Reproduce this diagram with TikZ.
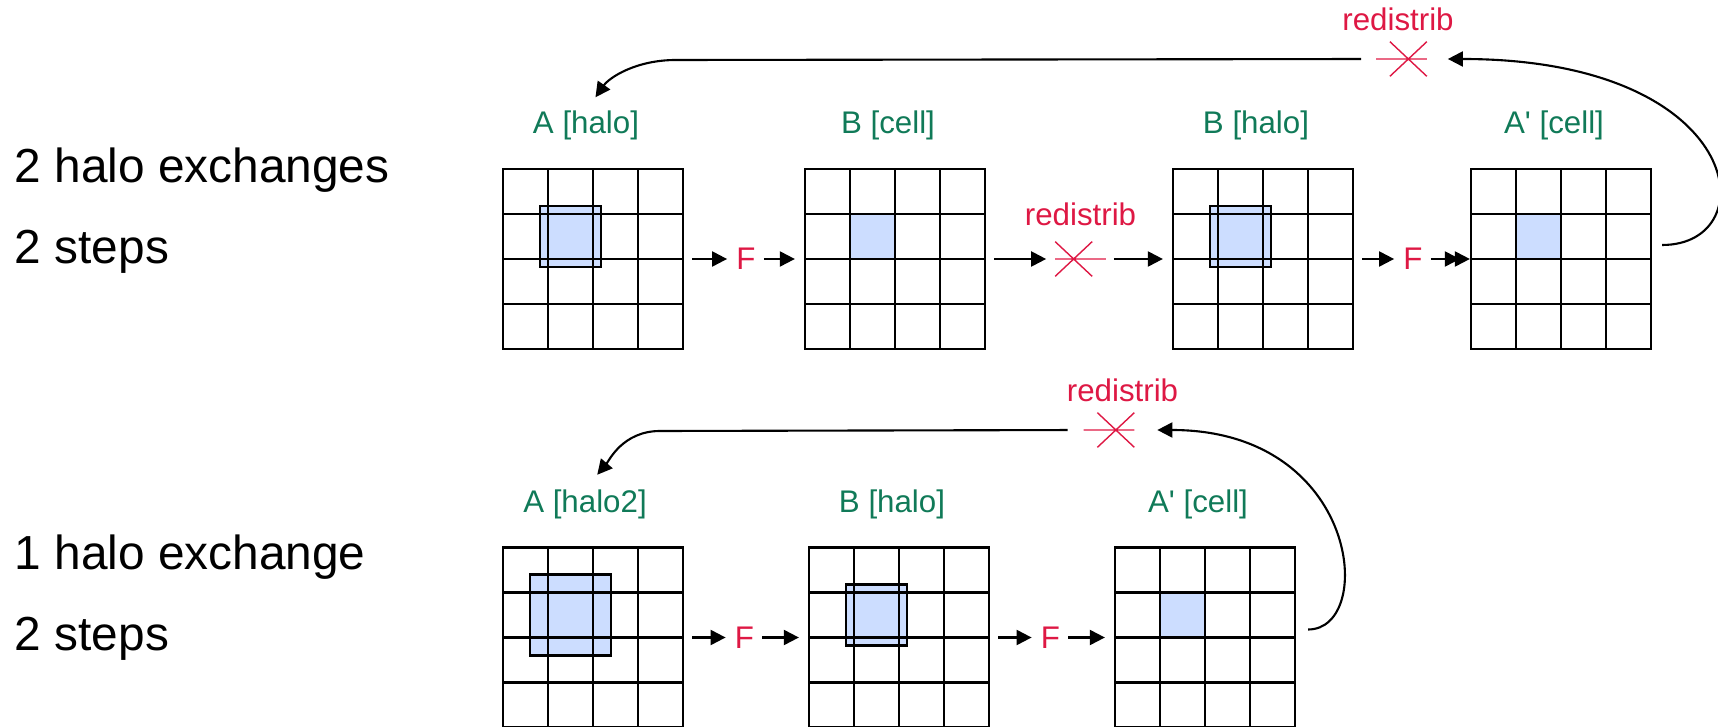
\documentclass[tikz,border=0pt]{standalone}
\usepackage{fontspec}
\setmainfont{Liberation Sans}[Ligatures=TeXOff]
\usepackage{tikz}
\usetikzlibrary{arrows.meta,positioning,backgrounds}

\definecolor{labelgreen}{RGB}{16,122,88}
\definecolor{opred}{RGB}{222,24,68}
\definecolor{cellblue}{RGB}{204,221,255}

\tikzset{
  mesh/.style={draw, line width=1.3pt, minimum size=3.6cm, inner sep=0pt,
    path picture={
      \foreach \k in {1,2,3}
        \draw[line width=1.3pt]
          ([xshift=\k*0.9cm]path picture bounding box.south west) --
          ([xshift=\k*0.9cm]path picture bounding box.north west)
          ([yshift=\k*0.9cm]path picture bounding box.south west) --
          ([yshift=\k*0.9cm]path picture bounding box.south east);
    }},
  cell/.style={fill=cellblue, minimum size=0.9cm, inner sep=0pt},
  halo/.style={cell, draw, line width=1.3pt},
  tag/.style={text=labelgreen, font=\fontsize{17.8}{20}\selectfont, inner sep=0pt, anchor=base},
  op/.style={text=opred, font=\fontsize{17.8}{20}\selectfont, inner sep=0pt},
  cross/.style={minimum width=1cm, minimum height=0.68cm, inner sep=0pt},
  side/.style={font=\fontsize{27.2}{30}\selectfont, inner sep=0pt, anchor=base west},
  flow/.style={-{Triangle[length=0.3cm,width=0.3cm]}, line width=1.2pt,
    shorten <=0.16cm, shorten >=0.18cm},
}

\begin{document}
\begin{tikzpicture}
  \useasboundingbox (0,0) rectangle (34.36,14.52);

  % left column
  \node[side] (t1) at (0.29,10.87) {2 halo exchanges};
  \node[side] (t2) at (0.29,9.25) {2 steps};
  \node[side] (t3) at (0.29,3.12) {1 halo exchange};
  \node[side] (t4) at (0.29,1.52) {2 steps};

  % upper chain
  \node[mesh] (A) at (11.86,9.34) {};
  \node[mesh] (B) at (17.9,9.34) {};
  \node[mesh] (Bh) at (25.26,9.34) {};
  \node[mesh] (Ap) at (31.22,9.34) {};

  \node[tag] (lA) at ([shift={(-0.14,0.68)}]A.north) {A [halo]};
  \node[tag] (lB) at ([shift={(-0.14,0.68)}]B.north) {B [cell]};
  \node[tag] (lBh) at ([shift={(-0.14,0.68)}]Bh.north) {B [halo]};
  \node[tag] (lAp) at ([shift={(-0.14,0.68)}]Ap.north) {A' [cell]};

  \node[op] (F1) at (14.92,9.34) {F};
  \node[op] (F2) at (28.26,9.34) {F};
  \node[cross] (X1) at (21.61,9.34) {};
  \node[op, above=0.31cm of X1] (r1) {redistrib};
  \node[cross] (X2) at (28.03,13.34) {};
  \node[op, above=0.21cm of X2, xshift=-0.07cm] (r2) {redistrib};

  % lower chain
  \node[mesh] (A2) at (11.86,1.77) {};
  \node[mesh] (B2) at (17.98,1.77) {};
  \node[mesh] (Ap2) at (24.1,1.77) {};

  \node[tag] (lA2) at ([shift={(-0.16,0.68)}]A2.north) {A [halo2]};
  \node[tag] (lB2) at ([shift={(-0.14,0.68)}]B2.north) {B [halo]};
  \node[tag] (lAp2) at ([shift={(-0.14,0.68)}]Ap2.north) {A' [cell]};

  \node[op] (F3) at (14.89,1.77) {F};
  \node[op] (F4) at (21.01,1.77) {F};
  \node[cross] (X3) at (22.18,5.92) {};
  \node[op, above=0.21cm of X3, xshift=0.27cm] (r3) {redistrib};

  \coordinate (kA) at (13.52,13.32);
  \coordinate (kB) at (13.2,5.9);

  % shaded cells and halos under the grid lines
  \begin{pgfonlayer}{background}
    \node[halo, minimum size=1.22cm] (hA) at ([shift={(-0.45,0.45)}]A.center) {};
    \node[cell] (cB) at ([shift={(-0.45,0.45)}]B.center) {};
    \node[halo, minimum size=1.22cm] (hBh) at ([shift={(-0.45,0.45)}]Bh.center) {};
    \node[cell] (cAp) at ([shift={(-0.45,0.45)}]Ap.center) {};
    \node[halo, minimum size=1.62cm] (hA2) at ([shift={(-0.45,0.45)}]A2.center) {};
    \node[halo, minimum size=1.22cm] (hB2) at ([shift={(-0.45,0.45)}]B2.center) {};
    \node[cell] (cAp2) at ([shift={(-0.45,0.45)}]Ap2.center) {};
  \end{pgfonlayer}

  % redistribution marks
  \draw[opred, line width=0.8pt] (X1.west) -- (X1.east)
    (X1.north west) -- ([xshift=0.74cm]X1.south west)
    (X1.south west) -- ([xshift=0.74cm]X1.north west);
  \foreach \x in {X2,X3}
    \draw[opred, line width=0.8pt] (\x.west) -- (\x.east)
      ([xshift=-0.74cm]\x.north east) -- (\x.south east)
      ([xshift=-0.74cm]\x.south east) -- (\x.north east);

  \draw[flow] (A) -- (F1);
  \draw[flow] (F1) -- (B);
  \draw[flow] (B) -- (X1);
  \draw[flow] (X1) -- (Bh);
  \draw[flow] (Bh) -- (F2);
  \draw[flow, -{Triangle[length=0.3cm,width=0.3cm,sep=-0.1cm]Triangle[length=0.3cm,width=0.3cm]}, shorten >=0pt] (F2) -- (Ap);

  \draw[flow] (A2) -- (F3);
  \draw[flow] (F3) -- (B2);
  \draw[flow] (B2) -- (F4);
  \draw[flow] (F4) -- (Ap2);

  % feedback loops
  \draw[flow, shorten <=0.2cm, shorten >=0.42cm]
    ([yshift=0.28cm]Ap.east) .. controls +(2.3,0) and +(6.4,0) .. (X2.east);
  \draw[flow, shorten <=0.3cm, shorten >=0.33cm]
    (X2.west) -- (kA) to[out=180,in=55] (lA.north);

  \draw[flow, shorten <=0.24cm, shorten >=0.46cm]
    ([yshift=0.16cm]Ap2.east) .. controls +(1.6,0) and +(4.52,0) .. (X3.east);
  \draw[flow, shorten <=0.32cm, shorten >=0.38cm]
    (X3.west) -- (kB) to[out=180,in=50] (lA2.north);
\end{tikzpicture}
\end{document}
